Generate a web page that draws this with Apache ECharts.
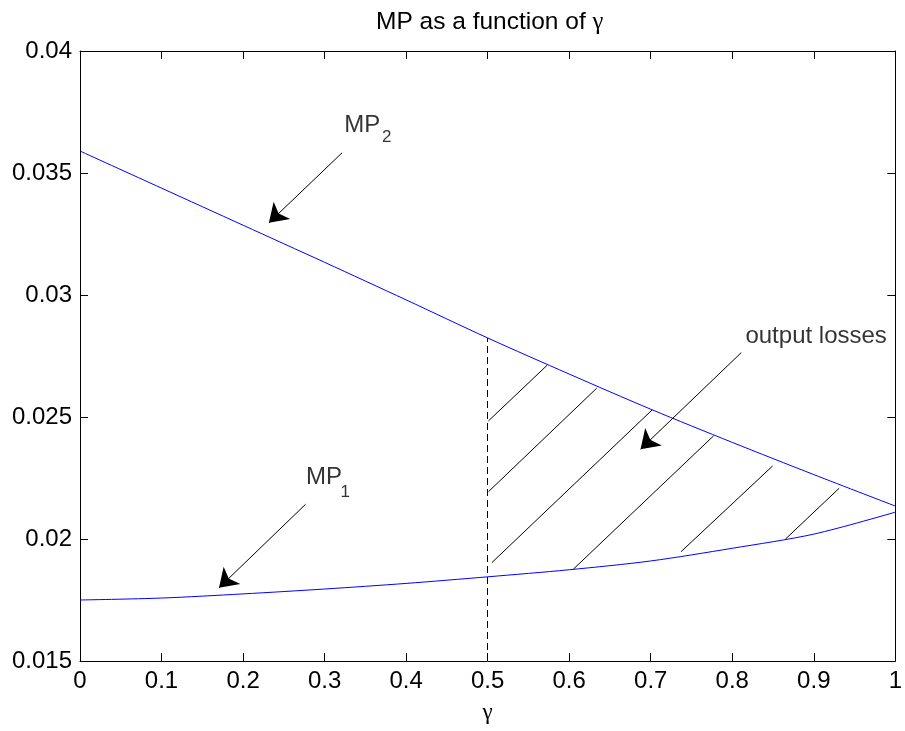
<!DOCTYPE html>
<html><head><meta charset="utf-8">
<script src="https://cdn.jsdelivr.net/npm/echarts@6/dist/echarts.min.js"></script>
<style>html,body{margin:0;padding:0;background:#fff}#c{width:905px;height:731px}</style>
</head><body><div id="c"></div>
<script>
// ---- data ----
const gammaValues = [0, 0.1, 0.2, 0.3, 0.4, 0.5, 0.6, 0.7, 0.8, 0.9, 1.0];
const mp1Values = [0.0175, 0.01758, 0.01775, 0.01795, 0.01818, 0.01845, 0.01874, 0.0191, 0.01962, 0.0202, 0.0211];
const mp2Values = [0.0359, 0.03438, 0.03286, 0.03134, 0.0298, 0.02824, 0.02676, 0.02532, 0.02396, 0.02264, 0.02135];
const xTickLabels = ['0', '0.1', '0.2', '0.3', '0.4', '0.5', '0.6', '0.7', '0.8', '0.9', '1'];
const yTickLabels = ['0.015', '0.02', '0.025', '0.03', '0.035', '0.04'];
const hatchStarts = [[0.501, 0.02484], [0.501, 0.02194], [0.5051, 0.01903], [0.605, 0.01876], [0.7372, 0.01948], [0.865, 0.01999]];
const hatchEnds = [[0.5732, 0.02713], [0.6337, 0.02618], [0.7017, 0.02529], [0.7772, 0.02423], [0.8494, 0.02299], [0.9311, 0.02208]];
const arrowTails = [[0.3215, 0.03583], [0.2766, 0.02142], [0.8111, 0.02764]];
const arrowTips = [[0.2317, 0.03296], [0.1705, 0.0180], [0.6875, 0.02368]];
const labelTexts = ['MP', 'MP'];
const labelPositions = [[0.3242, 0.03697], [0.2772, 0.02254]];
const subscriptTexts = ['2', '1'];
const subscriptPositions = [[0.3703, 0.036455], [0.3196, 0.021926]];
const rightLabelTexts = ['output losses'];
const rightLabelPositions = [[0.9896, 0.028295]];
const dashedAt = 0.5;
const titleMain = 'MP as a function of ';
const titleSymbol = 'γ';
const xAxisName = 'γ';

const xMin = 0, xMax = 1, xStep = 0.1;
const yMin = 0.015, yMax = 0.04, yStep = 0.005;

// ---- chart ----
const FONT = 'Liberation Sans';
const SERIF = 'Liberation Serif';
const fs = 24;
const chart = echarts.init(document.getElementById('c'), null, {renderer: 'canvas'});

const xLab = v => xTickLabels[Math.round((v - xMin) / xStep)] ?? '';
const yLab = v => yTickLabels[Math.round((v - yMin) / yStep)] ?? '';

const mp2AtDash = mp2Values[gammaValues.indexOf(dashedAt)];

const axisCommon = {
  axisLine: {show: true, onZero: false, lineStyle: {color: '#000', width: 1}},
  axisTick: {show: true, inside: true, length: 8, lineStyle: {color: '#000', width: 1}},
  splitLine: {show: false}
};

const textLabel = (size, align) => ({
  show: true, position: [0, 0], align: align, verticalAlign: 'middle',
  formatter: p => p.data[2], fontFamily: FONT, fontSize: size, color: '#000'
});

const option = {
  backgroundColor: '#fff',
  animation: false,
  title: {
    text: '{a|' + titleMain + '}{g|' + titleSymbol + '}',
    left: 371, top: 5,
    textStyle: {fontWeight: 'normal', rich: {
      a: {fontFamily: FONT, fontSize: 24.5, fontWeight: 'normal', color: '#000'},
      g: {fontFamily: SERIF, fontSize: 24.5, fontWeight: 'normal', color: '#000'}
    }}
  },
  grid: {left: 80, right: 8, top: 51, bottom: 70, containLabel: false},
  xAxis: [
    Object.assign({}, axisCommon, {
      type: 'value', min: xMin, max: xMax, interval: xStep, position: 'bottom',
      name: xAxisName, nameLocation: 'middle', nameGap: 40,
      nameTextStyle: {fontFamily: SERIF, fontSize: 23, color: '#000'},
      axisLabel: {formatter: xLab, fontFamily: FONT, fontSize: fs, color: '#000', margin: 8}
    }),
    Object.assign({}, axisCommon, {
      type: 'value', min: xMin, max: xMax, interval: xStep, position: 'top',
      axisLabel: {show: false}
    })
  ],
  yAxis: [
    Object.assign({}, axisCommon, {
      type: 'value', min: yMin, max: yMax, interval: yStep, position: 'left',
      axisLabel: {formatter: yLab, fontFamily: FONT, fontSize: fs, color: '#000', margin: 8}
    }),
    Object.assign({}, axisCommon, {
      type: 'value', min: yMin, max: yMax, interval: yStep, position: 'right',
      axisLabel: {show: false}
    })
  ],
  series: [
    {
      type: 'lines', coordinateSystem: 'cartesian2d', silent: true, z: 2,
      lineStyle: {color: '#000', width: 1, opacity: 1},
      data: hatchStarts.map((s, i) => ({coords: [s, hatchEnds[i]]}))
    },
    {
      type: 'lines', coordinateSystem: 'cartesian2d', silent: true, z: 2,
      lineStyle: {color: '#000', width: 1, type: [7, 4], opacity: 1},
      data: [{coords: [[dashedAt, yMin], [dashedAt, mp2AtDash]]}]
    },
    {
      type: 'line', name: 'MP1', data: gammaValues.map((g, i) => [g, mp1Values[i]]),
      smooth: 0.3,
      showSymbol: false, symbol: 'none', lineStyle: {color: '#0000ff', width: 1}, z: 3
    },
    {
      type: 'line', name: 'MP2', data: gammaValues.map((g, i) => [g, mp2Values[i]]),
      smooth: 0.3,
      showSymbol: false, symbol: 'none', lineStyle: {color: '#0000ff', width: 1}, z: 3
    },
    {
      type: 'lines', coordinateSystem: 'cartesian2d', silent: true, z: 4,
      symbol: ['none', 'arrow'], symbolSize: [0, 18],
      lineStyle: {color: '#000', width: 1, opacity: 1},
      itemStyle: {color: '#000'},
      data: arrowTails.map((t, i) => ({coords: [t, arrowTips[i]]}))
    },
    {
      type: 'scatter', symbolSize: 0, silent: true, z: 5,
      data: labelPositions.map((p, i) => [p[0], p[1], labelTexts[i]]),
      label: textLabel(fs, 'left')
    },
    {
      type: 'scatter', symbolSize: 0, silent: true, z: 5,
      data: subscriptPositions.map((p, i) => [p[0], p[1], subscriptTexts[i]]),
      label: textLabel(17, 'left')
    },
    {
      type: 'scatter', symbolSize: 0, silent: true, z: 5,
      data: rightLabelPositions.map((p, i) => [p[0], p[1], rightLabelTexts[i]]),
      label: textLabel(fs, 'right')
    }
  ]
};
chart.setOption(option);
</script>
</body></html>
